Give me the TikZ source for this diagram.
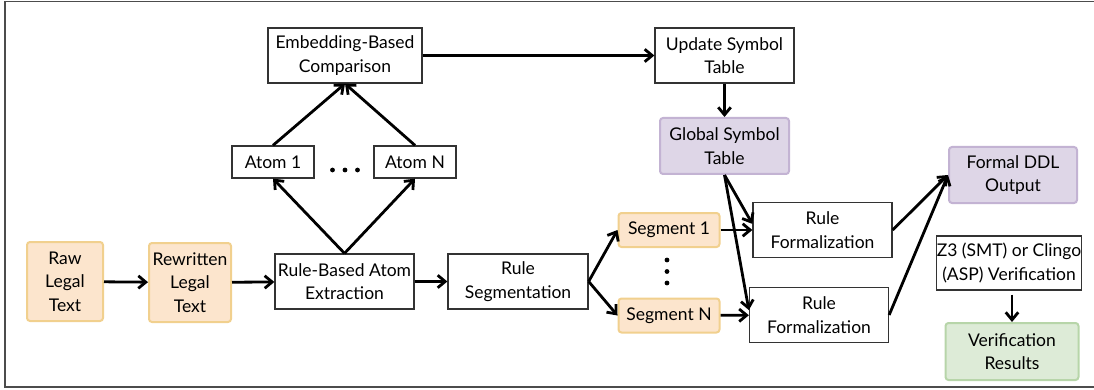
\documentclass[tikz,border=0pt]{standalone}
\usepackage{fontspec}
\setmainfont{Lato}
\usetikzlibrary{arrows.meta, positioning}

\definecolor{peach}{HTML}{FCE5CD}
\definecolor{peachline}{HTML}{F1D08E}
\definecolor{lilac}{HTML}{DED6E7}
\definecolor{lilacline}{HTML}{C3B3D3}
\definecolor{mint}{HTML}{DDEBD7}
\definecolor{mintline}{HTML}{B7D5A9}

\begin{document}
\begin{tikzpicture}[x=1pt, y=-1pt, ->, >={Straight Barb[length=7.5pt,width=12.5pt]}, line width=2.8pt,
  font=\fontsize{17.5}{23.5}\selectfont,
  main node/.style={draw=black!80, line width=1.3pt, fill=white, align=center, inner sep=0pt, minimum width=139pt, minimum height=55pt},
  text node/.style={main node, draw=peachline, fill=peach, line width=2pt, rounded corners=3pt},
  table node/.style={main node, draw=lilacline, fill=lilac, line width=2pt, rounded corners=3pt},
  result node/.style={main node, draw=mintline, fill=mint, line width=2pt, rounded corners=3pt}]

  \useasboundingbox (0,0) rectangle (1094,390);
  \draw[-, line width=1.5pt, black!70] (1100,1.5) -- (5,1.5) -- (5,387) -- (1100,387);

  \node[text node, minimum width=76pt, minimum height=79pt]  (raw)   at (65,281.5)   {Raw\\Legal\\Text};
  \node[text node, minimum width=82pt, minimum height=79pt]  (rewr)  at (190,282.5)  {Rewritten\\Legal\\Text};
  \node[main node]                                           (rba)   at (344.5,281.5) {Rule-Based Atom\\Extraction};
  \node[main node, minimum width=140pt]                      (seg)   at (518,281.5)  {Rule\\Segmentation};
  \node[main node, minimum width=82pt, minimum height=32pt]  (atom1) at (273,162)    {Atom 1};
  \node[main node, minimum width=82pt, minimum height=32pt]  (atomN) at (415,162)    {Atom N};
  \node[main node, minimum width=154pt]                      (emb)   at (345,55.5)   {Embedding-Based\\Comparison};
  \node[main node]                                           (upd)   at (724.5,55.5) {Update Symbol\\Table};
  \node[table node, minimum width=129pt, minimum height=56pt] (glob) at (724.5,146)  {Global Symbol\\Table};
  \node[text node, minimum width=101pt, minimum height=34pt] (seg1)  at (669,230)    {Segment 1};
  \node[text node, minimum width=101pt, minimum height=34pt] (segN)  at (669,315.5)  {Segment N};
  \node[main node]                                           (rf1)   at (822.5,230)  {Rule\\Formalization};
  \node[main node]                                           (rf2)   at (819,315)    {Rule\\Formalization};
  \node[table node, minimum width=128pt, minimum height=56pt] (ddl)  at (1013,175)   {Formal DDL\\Output};
  \node[main node, minimum width=143pt, minimum height=54pt] (z3)    at (1009,263)   {Z3 (SMT) or Clingo\\(ASP) Verification};
  \node[result node, minimum width=133pt, minimum height=57pt] (verif) at (1012,351.5) {Verification\\Results};

  \foreach \x in {332.5,345,357.5} \fill (\x,170) circle (2.4pt);
  \foreach \y in {260,271.5,283} \fill (667,\y) circle (2.4pt);

  \path (raw) edge (rewr)
        (rewr) edge (rba)
        (rba) edge (seg)
        (rba.north) edge (atom1.south)
                    edge (atomN.south)
        (atom1.north) edge (emb.south)
        (atomN.north) edge (emb.south)
        (emb) edge (upd)
        (upd) edge (glob)
        (seg.east) edge (seg1.west)
                   edge (segN.west)
        (seg1) edge (rf1)
        (segN) edge (rf2)
        (glob.south) edge (rf1.175)
                     edge (rf2.176)
        (rf1.east) edge (ddl.west)
        (rf2.east) edge (ddl.west)
        ([yshift=-4pt]verif.north |- z3.south) edge (verif.north);
\end{tikzpicture}
\end{document}
